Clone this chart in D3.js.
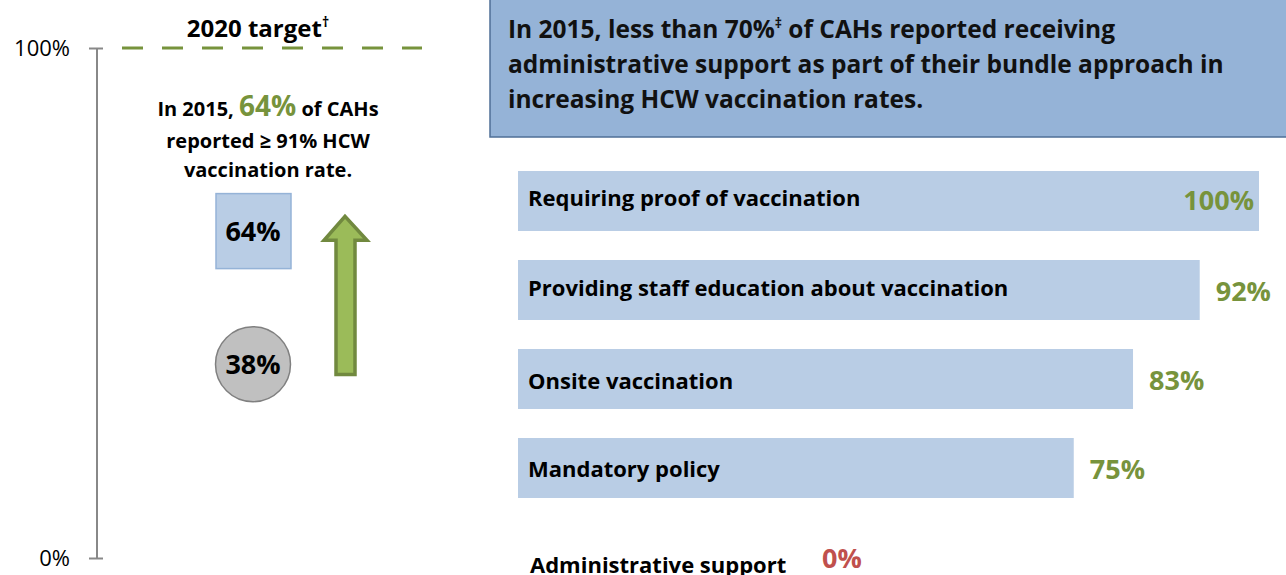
<!DOCTYPE html>
<html>
<head>
<meta charset="utf-8">
<script src="https://cdn.jsdelivr.net/npm/d3@7"></script>
<style>
  body { margin: 0; background: #fff; }
  svg { display: block; font-family: "Open Sans", Lato, sans-serif; }
</style>
</head>
<body>
<div id="chart"></div>
<script>
// data
const axisTicks = [0, 100];
const target2020 = 100;
const rate2015 = 64;
const rateBaseline = 38;
const arrowRange = [36, 67];
const barLabels = ['Requiring proof of vaccination', 'Providing staff education about vaccination', 'Onsite vaccination', 'Mandatory policy', 'Administrative support'];
const barValues = [100, 92, 83, 75, 0];

const W = 1286, H = 575;
const green = '#77933c';

const svg = d3.select('#chart').append('svg')
  .attr('width', W).attr('height', H);

// left: vertical scale
const y = d3.scaleLinear().domain([0, 100]).range([558, 48]);
const axisX = 97;

const yAxis = d3.axisLeft(y).tickValues(axisTicks).tickFormat(d => d + '%').tickSize(8);
const ag = svg.append('g').attr('transform', 'translate(' + axisX + ',0)').call(yAxis);
ag.select('.domain').remove();
ag.selectAll('.tick line').attr('x2', 6).attr('x1', -8).attr('stroke', '#888').attr('stroke-width', 2);
ag.selectAll('.tick text').attr('font-size', 22).attr('fill', '#000')
  .attr('font-family', '"Open Sans", sans-serif').attr('x', -27);
ag.append('line').attr('x1', 0).attr('x2', 0).attr('y1', y(0)).attr('y2', y(100))
  .attr('stroke', '#888').attr('stroke-width', 2);

// 2020 target dashes
svg.append('line')
  .attr('x1', 122).attr('x2', 422).attr('y1', y(target2020)).attr('y2', y(target2020))
  .attr('stroke', green).attr('stroke-width', 3).attr('stroke-dasharray', '21 19');

svg.append('text').attr('x', 258).attr('y', 37).attr('text-anchor', 'middle')
  .attr('font-size', 24).attr('font-weight', 'bold')
  .text('2020 target')
  .append('tspan').attr('font-size', 14).attr('dy', -10).text('†');

const note = svg.append('text').attr('text-anchor', 'middle').attr('font-weight', 'bold').attr('font-size', 20);
const l1 = note.append('tspan').attr('x', 268).attr('y', 116);
l1.append('tspan').text('In 2015, ');
l1.append('tspan').attr('fill', green).attr('font-size', 28).text(rate2015 + '%');
l1.append('tspan').text(' of CAHs');
note.append('tspan').attr('x', 268).attr('y', 148).text('reported \u2265 91% HCW');
note.append('tspan').attr('x', 268).attr('y', 177).text('vaccination rate.');

// 2015 square and baseline circle
const cx = 253;
svg.append('rect').attr('x', cx - 37).attr('y', y(rate2015) - 38).attr('width', 75).attr('height', 75)
  .attr('fill', '#b9cde5').attr('stroke', '#95b3d7').attr('stroke-width', 1.5);
svg.append('text').attr('x', cx).attr('y', y(rate2015)).attr('dy', '0.35em').attr('text-anchor', 'middle')
  .attr('font-size', 27).attr('font-weight', 'bold').text(rate2015 + '%');

svg.append('circle').attr('cx', cx).attr('cy', y(rateBaseline)).attr('r', 37.5)
  .attr('fill', '#c0c0c0').attr('stroke', '#808080').attr('stroke-width', 1.5);
svg.append('text').attr('x', cx).attr('y', y(rateBaseline)).attr('dy', '0.35em').attr('text-anchor', 'middle')
  .attr('font-size', 27).attr('font-weight', 'bold').text(rateBaseline + '%');

// arrow
const ax = 345, yb = y(arrowRange[0]), yt = y(arrowRange[1]);
const arrow = d3.path();
arrow.moveTo(ax - 9, yb); arrow.lineTo(ax - 9, yt + 24); arrow.lineTo(ax - 21, yt + 24);
arrow.lineTo(ax, yt); arrow.lineTo(ax + 22, yt + 24); arrow.lineTo(ax + 10, yt + 24);
arrow.lineTo(ax + 10, yb); arrow.closePath();
svg.append('path').attr('d', arrow.toString())
  .attr('fill', '#9bbb59').attr('stroke', '#71893f').attr('stroke-width', 3.5);

// right: headline box
svg.append('rect').attr('x', 490).attr('y', -2).attr('width', 805).attr('height', 139)
  .attr('fill', '#95b3d7').attr('stroke', '#4f6f97').attr('stroke-width', 1.5);
const head = svg.append('text').attr('font-size', 24.5).attr('font-weight', 'bold').attr('fill', '#111');
const h1 = head.append('tspan').attr('x', 508).attr('y', 38);
h1.append('tspan').text('In 2015, less than 70%');
h1.append('tspan').attr('font-size', 14).attr('dy', -10).text('\u2021');
h1.append('tspan').attr('dy', 10).text(' of CAHs reported receiving');
head.append('tspan').attr('x', 508).attr('y', 73).text('administrative support as part of their bundle approach in');
head.append('tspan').attr('x', 508).attr('y', 108).text('increasing HCW vaccination rates.');

// bars
const x = d3.scaleLinear().domain([0, 100]).range([518, 1259]);
const yb2 = d3.scaleBand().domain(barLabels).range([171, 171 + 89 * 4 + 60]).paddingInner(29 / 89).paddingOuter(0);
const labelNudge = [-3, -2, 2, 1, 8];
const valueNudge = [0, 2, 2, 2, 2];

svg.selectAll('.bar').data(barValues).enter().append('rect')
  .attr('class', 'bar')
  .attr('x', x(0))
  .attr('y', (d, i) => yb2(barLabels[i]))
  .attr('width', d => x(d) - x(0))
  .attr('height', yb2.bandwidth())
  .attr('fill', '#b9cde5');

svg.selectAll('.blabel').data(barLabels).enter().append('text')
  .attr('class', 'blabel')
  .attr('x', (d, i) => i === 4 ? 530 : 528)
  .attr('y', (d, i) => yb2(d) + yb2.bandwidth() / 2 + labelNudge[i])
  .attr('dy', '0.35em')
  .attr('font-size', 22).attr('font-weight', 'bold').attr('fill', '#000')
  .text(d => d);

svg.selectAll('.bval').data(barValues).enter().append('text')
  .attr('class', 'bval')
  .attr('x', (d, i) => d === 100 ? x(d) - 5 : (i === 4 ? 822 : x(d) + 16))
  .attr('y', (d, i) => yb2(barLabels[i]) + yb2.bandwidth() / 2 + valueNudge[i])
  .attr('dy', '0.35em')
  .attr('text-anchor', d => d === 100 ? 'end' : 'start')
  .attr('font-size', 27).attr('font-weight', 'bold')
  .attr('fill', d => d === 0 ? '#c0504d' : green)
  .text(d => d + '%');
</script>
</body>
</html>
